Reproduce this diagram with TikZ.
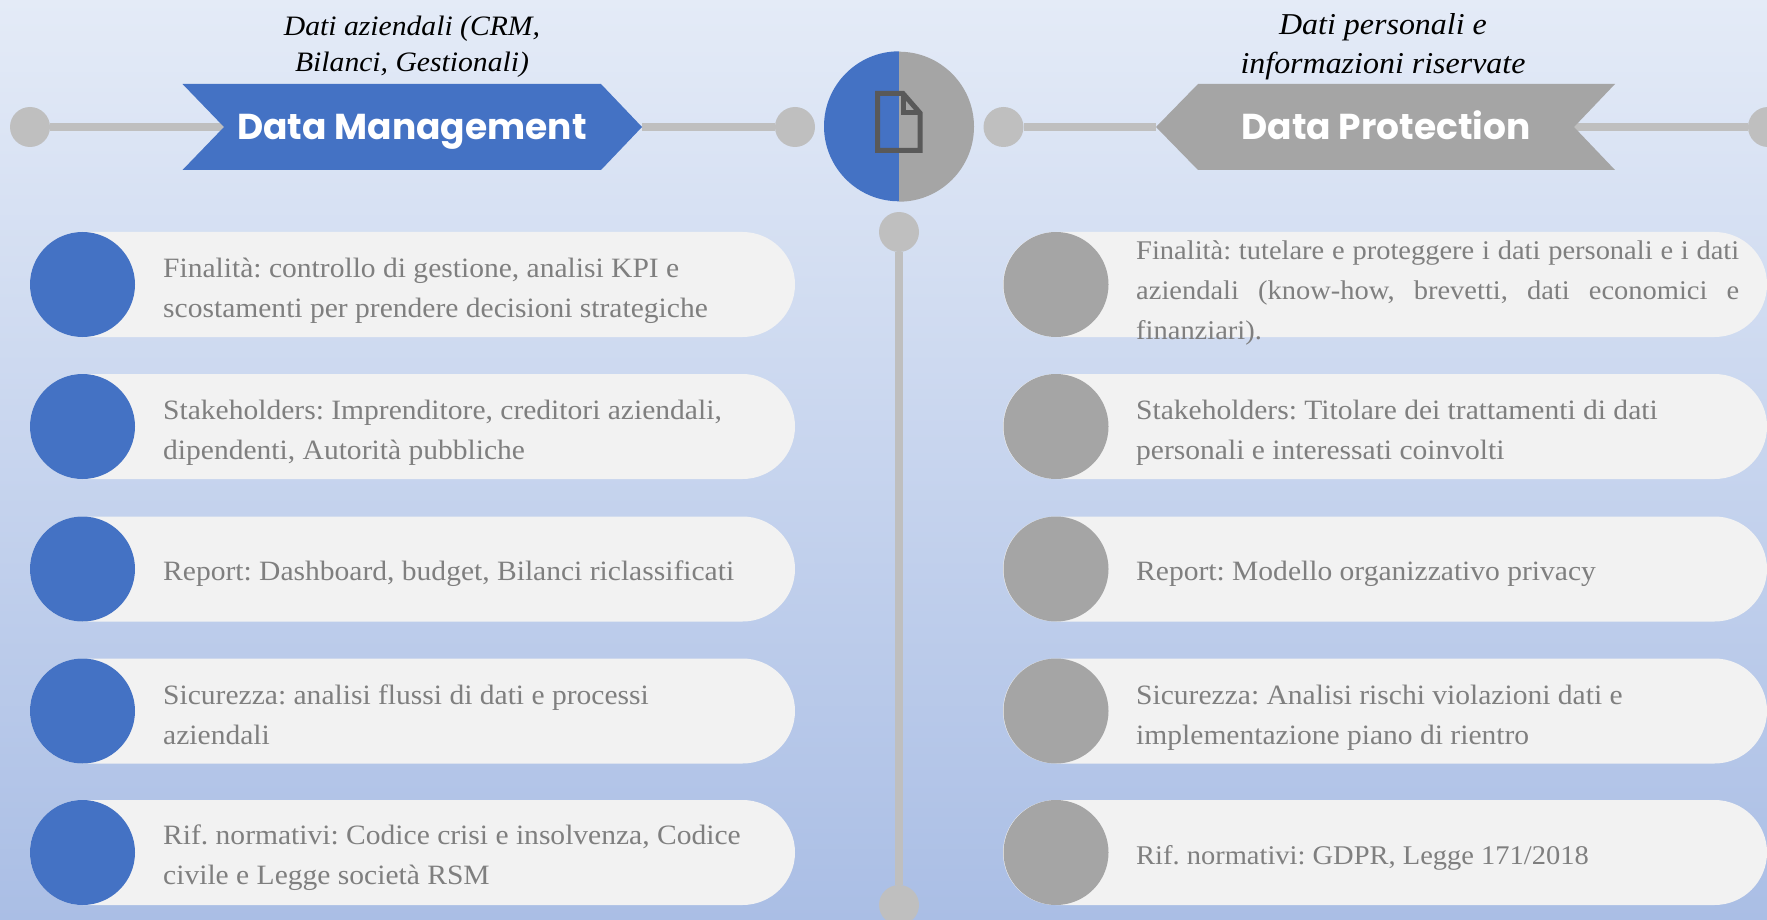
\documentclass[tikz,border=0pt]{standalone}
\usepackage{fontspec}
\setmainfont{Liberation Serif}[FakeStretch=1.055]
\newfontfamily\popp{Poppins}
\definecolor{bgtop}{HTML}{E4EBF7}
\definecolor{bgbot}{HTML}{AABEE5}
\definecolor{dmblue}{HTML}{4472C4}
\definecolor{dpgray}{HTML}{A5A5A5}
\definecolor{linegray}{HTML}{BFBFBF}
\definecolor{pillfill}{HTML}{F2F2F2}
\definecolor{rowtext}{HTML}{7F7F7F}
\definecolor{icongray}{HTML}{595959}
\newcommand{\rowfont}{\fontsize{28}{40}\selectfont\frenchspacing}
\newcommand{\rowlines}[2][700pt]{\parbox[t]{#1}{\rowfont\raggedright #2}}
\tikzset{
  dot/.style={circle,fill=linegray,minimum size=40pt,inner sep=0pt},
  conn/.style={draw=linegray,line width=8pt},
  pill/.style={rectangle,rounded corners=52.5pt,fill=pillfill,minimum height=105pt,inner sep=0pt},
  lpill/.style={pill,minimum width=765pt},
  rpill/.style={pill,minimum width=764pt},
  ldisc/.style={circle,fill=dmblue,minimum size=105pt,inner sep=0pt},
  rdisc/.style={circle,fill=dpgray,minimum size=105pt,inner sep=0pt},
  rowlabel/.style={anchor=base west,inner sep=0pt,text=rowtext},
  toplabel/.style={anchor=base,inner sep=0pt,text=black,font=\itshape},
  headlabel/.style={anchor=base,inner sep=0pt,text=white,font=\popp\bfseries\fontsize{36}{40}\selectfont},
}
\begin{document}
\begin{tikzpicture}[x=1pt,y=-1pt]
\useasboundingbox (0,0) rectangle (1767,920);
\clip (0,0) rectangle (1767,920);
\shade[top color=bgtop,bottom color=bgbot] (0,0) rectangle (1767,920);

\coordinate (dmnotch) at (224,127);
\coordinate (dmtip) at (642,127);
\coordinate (dptip) at (1156,127);
\coordinate (dpnotch) at (1574,127);

% dots
\node[dot] (d1) at (30,127) {};
\node[dot] (d2) at (795,127) {};
\node[dot] (d3) at (1003.5,127) {};
\node[dot] (d4) at (1768,127) {};
\node[dot] (d5) at (899,232) {};
\node[dot] (d6) at (899,905) {};

% connectors
\draw[conn] (d1) -- (dmnotch);
\draw[conn] (dmtip) -- (d2);
\draw[conn] (d3) -- (dptip);
\draw[conn] (dpnotch) -- (d4);
\draw[conn] (d5) -- (d6);

% banners
\fill[dmblue] (182.5,84) -- (601,84) -- (dmtip) -- (601,170) -- (182.5,170) -- (dmnotch) -- cycle;
\fill[dpgray] (dptip) -- (1198,84) -- (1615,84) -- (dpnotch) -- (1615,170) -- (1198,170) -- cycle;

% hub
\node[circle,minimum size=150pt,inner sep=0pt] (hub) at (899,126.5) {};
\fill[dmblue] (hub.north) arc[start angle=90,end angle=270,radius=75pt] -- cycle;
\fill[dpgray] (hub.south) arc[start angle=270,end angle=450,radius=75pt] -- cycle;
\draw[icongray,line width=5pt,miter limit=10] (877.5,93.5) -- (903,93.5) -- (920,113) -- (920,150.5) -- (877.5,150.5) -- cycle;
\draw[icongray,line width=5pt] (903,93.5) -- (903,113) -- (920,113);

% left rows
\node[lpill] (lp1) at (412.5,284.5) {};
\node[lpill] (lp2) at (412.5,426.5) {};
\node[lpill] (lp3) at (412.5,569) {};
\node[lpill] (lp4) at (412.5,711) {};
\node[lpill] (lp5) at (412.5,852.5) {};
\node[ldisc] (ld1) at (82.5,284.5) {};
\node[ldisc] (ld2) at (82.5,426.5) {};
\node[ldisc] (ld3) at (82.5,569) {};
\node[ldisc] (ld4) at (82.5,711) {};
\node[ldisc] (ld5) at (82.5,852.5) {};
% right rows
\node[rpill] (rp1) at (1385,284.5) {};
\node[rpill] (rp2) at (1385,426.5) {};
\node[rpill] (rp3) at (1385,569) {};
\node[rpill] (rp4) at (1385,711) {};
\node[rpill] (rp5) at (1385,852.5) {};
\node[rdisc] (rd1) at (1056,284.5) {};
\node[rdisc] (rd2) at (1056,426.5) {};
\node[rdisc] (rd3) at (1056,569) {};
\node[rdisc] (rd4) at (1056,711) {};
\node[rdisc] (rd5) at (1056,852.5) {};

% headings
\node[headlabel] (h1) at (412,140) {Data Management};
\node[headlabel] (h2) at (1386,140) {Data Protection};
\node[toplabel,font=\itshape\fontsize{28.1}{36}\selectfont] (t1a) at (412,36) {Dati aziendali (CRM,};
\node[toplabel,font=\itshape\fontsize{28.1}{36}\selectfont] (t1b) at (412,72) {Bilanci, Gestionali)};
\node[toplabel,font=\itshape\fontsize{30.3}{39}\selectfont] (t2a) at (1383,35) {Dati personali e};
\node[toplabel,font=\itshape\fontsize{30.3}{39}\selectfont] (t2b) at (1383,74) {informazioni riservate};

% left text
\node[rowlabel] (lt1) at (163,277) {\rowlines{Finalità: controllo di gestione, analisi KPI e\\scostamenti per prendere decisioni strategiche}};
\node[rowlabel] (lt2) at (163,419) {\rowlines{Stakeholders: Imprenditore, creditori aziendali,\\dipendenti, Autorità pubbliche}};
\node[rowlabel] (lt3) at (163,580) {\rowlines{Report: Dashboard, budget, Bilanci riclassificati}};
\node[rowlabel] (lt4) at (163,704) {\rowlines{Sicurezza: analisi flussi di dati e processi\\aziendali}};
\node[rowlabel] (lt5) at (163,844) {\rowlines{Rif. normativi: Codice crisi e insolvenza, Codice\\civile e Legge società RSM}};

% right text
\node[rowlabel] (rt1) at (1136,259) {\parbox[t]{603pt}{\fontsize{27}{40}\selectfont\frenchspacing Finalità: tutelare e proteggere i dati personali e i dati\linebreak aziendali (know-how, brevetti, dati economici e\linebreak finanziari).}};
\node[rowlabel] (rt2) at (1136,419) {\rowlines[620pt]{Stakeholders: Titolare dei trattamenti di dati\\personali e interessati coinvolti}};
\node[rowlabel] (rt3) at (1136,580) {\rowlines[620pt]{Report: Modello organizzativo privacy}};
\node[rowlabel] (rt4) at (1136,704) {\rowlines[620pt]{Sicurezza: Analisi rischi violazioni dati e\\implementazione piano di rientro}};
\node[rowlabel] (rt5) at (1136,864) {\parbox[t]{620pt}{\fontsize{27}{40}\selectfont\frenchspacing Rif. normativi: GDPR, Legge 171/2018}};
\end{tikzpicture}
\end{document}
